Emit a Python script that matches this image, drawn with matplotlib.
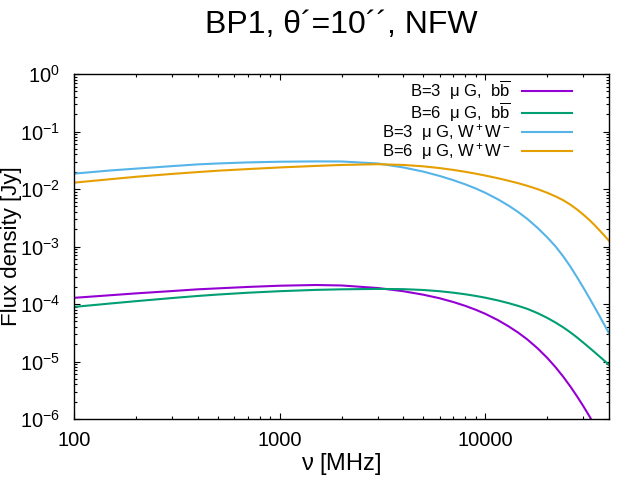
import matplotlib
matplotlib.use('Agg')
import matplotlib.pyplot as plt
from matplotlib.ticker import FixedLocator, FuncFormatter, LogFormatterSciNotation, NullFormatter

# gnuplot-like look
plt.rcParams['font.family'] = ['Liberation Sans', 'DejaVu Sans']
plt.rcParams['mathtext.fontset'] = 'custom'
plt.rcParams['mathtext.rm'] = 'Liberation Sans'
plt.rcParams['mathtext.it'] = 'Liberation Sans:italic'
plt.rcParams['mathtext.bf'] = 'Liberation Sans:bold'

# frequencies [MHz]
freq = [100, 150, 200, 300, 400, 500, 700, 1000, 1500, 2000, 3000, 4000, 5000,
        6000, 7000, 8000, 9000, 10000, 11500, 13000, 14500, 16000, 18000, 20000,
        22000, 24000, 26000, 28000, 30000, 32000, 34000, 36000, 38000, 40000]

# flux density [Jy]
flux_b3_bb = [1.28e-4, 1.42e-4, 1.53e-4, 1.68e-4, 1.80e-4, 1.87e-4, 1.98e-4, 2.08e-4, 2.14e-4,
              2.10e-4, 1.897e-4, 1.667e-4, 1.451e-4, 1.259e-4, 1.082e-4, 9.28e-5, 7.93e-5,
              6.76e-5, 5.27e-5, 4.08e-5, 3.16e-5, 2.43e-5, 1.689e-5, 1.162e-5, 7.93e-6,
              5.38e-6, 3.64e-6, 2.46e-6, 1.674e-6, 1.144e-6, 7.86e-7, 5.42e-7, 3.75e-7, 2.61e-7]
flux_b6_bb = [8.9e-5, 1.02e-4, 1.12e-4, 1.27e-4, 1.38e-4, 1.46e-4, 1.57e-4, 1.67e-4, 1.76e-4,
              1.80e-4, 1.83e-4, 1.812e-4, 1.752e-4, 1.668e-4, 1.573e-4, 1.476e-4, 1.38e-4,
              1.288e-4, 1.156e-4, 1.035e-4, 9.25e-5, 8.25e-5, 6.92e-5, 5.75e-5, 4.75e-5,
              3.91e-5, 3.2e-5, 2.61e-5, 2.13e-5, 1.753e-5, 1.458e-5, 1.221e-5, 1.03e-5, 8.74e-6]
flux_b3_ww = [0.0185, 0.0210, 0.0226, 0.0250, 0.0268, 0.0278, 0.0290, 0.0298, 0.0302,
              0.0301, 0.0278, 0.0237, 0.02005, 0.01687, 0.01423, 0.01204, 0.01019, 0.00861,
              0.00665, 0.00514, 0.00395, 0.00303, 0.0021, 0.00145, 0.0010, 6.7e-4, 4.43e-4,
              2.9e-4, 1.93e-4, 1.30e-4, 8.87e-5, 6.15e-5, 4.33e-5, 3.08e-5]
flux_b6_ww = [0.0129, 0.0148, 0.0163, 0.0183, 0.0197, 0.0208, 0.0222, 0.0237, 0.0252,
              0.0262, 0.0270, 0.02621, 0.02478, 0.02312, 0.02148, 0.01991, 0.01846, 0.01714,
              0.01542, 0.0139, 0.01258, 0.01138, 0.00993, 0.00861, 0.00743, 0.00635, 0.00533,
              0.00439, 0.00359, 0.002925, 0.002366, 0.001905, 0.001542, 0.001256]

labels = [r'B=3  $\mathrm{\mu}$ G,  $\mathrm{b\overline{b}}$',
          r'B=6  $\mathrm{\mu}$ G,  $\mathrm{b\overline{b}}$',
          r'B=3  $\mathrm{\mu}$ G, W$^+$W$^-$',
          r'B=6  $\mathrm{\mu}$ G, W$^+$W$^-$']
colors = ['#9400D3', '#009E73', '#56B4E9', '#E69F00']
series = [flux_b3_bb, flux_b6_bb, flux_b3_ww, flux_b6_ww]

x_major = [100, 1000, 10000]
x_minor = [m * d for d in (100, 1000, 10000) for m in range(2, 10) if m * d < 40000]
y_major = [10.0 ** e for e in range(-6, 1)]
y_minor = [m * 10.0 ** e for e in range(-6, 0) for m in range(2, 10)]

fig = plt.figure(figsize=(6.4, 4.8), dpi=100)
ax = fig.add_axes([74 / 640, 1 - 419 / 480, 535 / 640, 345 / 480])

for y, lab, c in zip(series, labels, colors):
    ax.plot(freq, y, color=c, lw=1.5, label=lab)

ax.set_xscale('log')
ax.set_yscale('log')
ax.set_xlim(100, 40000)
ax.set_ylim(1e-6, 1)

ax.xaxis.set_major_locator(FixedLocator(x_major))
ax.xaxis.set_major_formatter(FuncFormatter(lambda v, p: '%d' % v))
ax.xaxis.set_minor_locator(FixedLocator(x_minor))
ax.xaxis.set_minor_formatter(NullFormatter())
ax.yaxis.set_major_locator(FixedLocator(y_major))
ax.yaxis.set_major_formatter(LogFormatterSciNotation())
ax.yaxis.set_minor_locator(FixedLocator(y_minor))
ax.yaxis.set_minor_formatter(NullFormatter())

ax.tick_params(which='both', direction='in', top=True, right=True, labelsize=14.5)
ax.tick_params(which='major', length=4.5, width=0.8)
ax.tick_params(which='minor', length=2.5, width=0.8)
ax.tick_params(axis='x', pad=9)
ax.tick_params(axis='y', pad=10)
for s in ax.spines.values():
    s.set_linewidth(1.0)

# axis labels placed like gnuplot does
fig.text((74 + 609) / 2 / 640, 1 - 470 / 480, r'$\mathrm{\nu}$ [MHz]',
         ha='center', va='baseline', fontsize=17)
fig.text(0.5 / 640, (1 - 419 / 480 + 1 - 74 / 480) / 2, 'Flux density [Jy]',
         ha='left', va='center', rotation=90, fontsize=16)
fig.text((74 + 609) / 2 / 640, 1 - 33 / 480, 'BP1, θ´=10´´, NFW',
         ha='center', va='baseline', fontsize=23)

leg = ax.legend(loc='upper right', bbox_to_anchor=(0.931, 0.985), frameon=False,
                markerfirst=False, fontsize=12, handlelength=3.0, handletextpad=0.7,
                labelspacing=-0.1, borderpad=0, borderaxespad=0)
# right-align entries like gnuplot
for col in leg._legend_handle_box.get_children():
    col.align = 'right'

fig.savefig('out.png', dpi=100)
